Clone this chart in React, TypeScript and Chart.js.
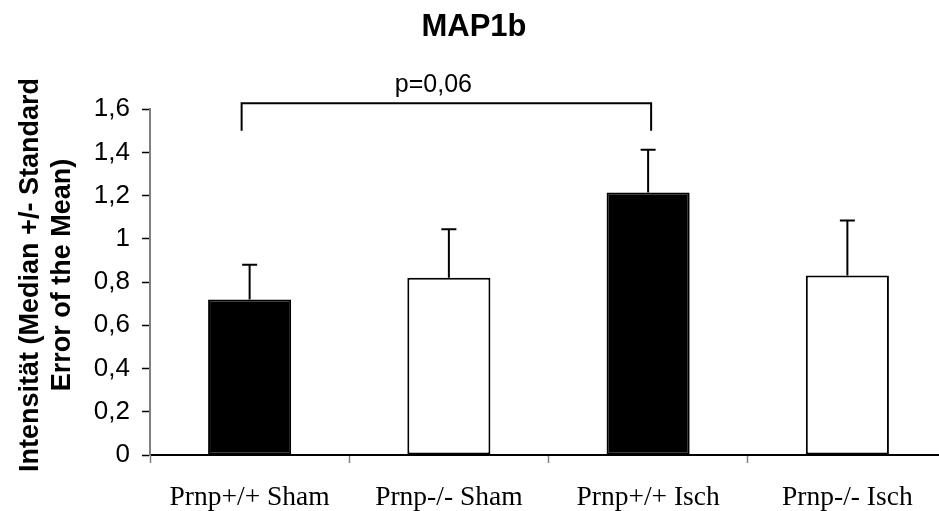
import React, { useEffect, useRef } from "react";
import { Chart, registerables } from "chart.js";

Chart.register(...registerables);

const categories = ["Prnp+/+ Sham", "Prnp-/- Sham", "Prnp+/+ Isch", "Prnp-/- Isch"];
const medianValues = [0.72, 0.82, 1.215, 0.83];
const semValues = [0.16, 0.225, 0.197, 0.255];
const barColors = ["#000000", "#ffffff", "#000000", "#ffffff"];
const yTickMin = 0;
const yTickMax = 1.6;
const yTickStep = 0.2;
const titleText = "MAP1b";
const yAxisTitle = ["Intensität (Median +/- Standard", "Error of the Mean)"];
const bracketFrom = 0;
const bracketTo = 2;
const bracketTopValue = 1.628;
const bracketLegValue = 1.5;
const bracketLabel = "p=0,06";

const extendXPlugin = {
  id: "extendX",
  afterLayout(chart: any) {
    const x = chart.scales.x;
    const newRight = x.left + 797;
    x.right = newRight;
    x.width = newRight - x.left;
    x.configure();
    chart.chartArea.right = newRight;
    chart.chartArea.width = newRight - chart.chartArea.left;
  },
};

const yTitlePlugin = {
  id: "yTitle",
  afterDraw(chart: any) {
    const ctx = chart.ctx;
    ctx.save();
    ctx.fillStyle = "#000";
    ctx.font = "bold 27px 'Liberation Sans', Arial, sans-serif";
    ctx.textAlign = "center";
    ctx.textBaseline = "alphabetic";
    ctx.translate(0, 275);
    ctx.rotate(-Math.PI / 2);
    ctx.fillText(yAxisTitle[0], 0, 38);
    ctx.fillText(yAxisTitle[1], 0, 70);
    ctx.restore();
  },
};

const errorBarPlugin = {
  id: "errorBars",
  afterDatasetsDraw(chart: any) {
    const ctx = chart.ctx;
    const meta = chart.getDatasetMeta(0);
    const y = chart.scales.y;
    ctx.save();
    ctx.strokeStyle = "#000";
    ctx.lineWidth = 2;
    meta.data.forEach((bar: any, i: number) => {
      const top = y.getPixelForValue(medianValues[i] + semValues[i]);
      const base = y.getPixelForValue(medianValues[i]);
      ctx.beginPath();
      ctx.moveTo(bar.x, base);
      ctx.lineTo(bar.x, top);
      ctx.moveTo(bar.x - 7.5, top);
      ctx.lineTo(bar.x + 7.5, top);
      ctx.stroke();
    });
    ctx.restore();
  },
};

const bracketPlugin = {
  id: "bracket",
  afterDatasetsDraw(chart: any) {
    const ctx = chart.ctx;
    const x = chart.scales.x;
    const y = chart.scales.y;
    const x1 = x.getPixelForValue(bracketFrom) - 8;
    const x2 = x.getPixelForValue(bracketTo) + 3;
    const yt = y.getPixelForValue(bracketTopValue);
    const yl = y.getPixelForValue(bracketLegValue);
    ctx.save();
    ctx.strokeStyle = "#000";
    ctx.lineWidth = 2;
    ctx.beginPath();
    ctx.moveTo(x1, yl);
    ctx.lineTo(x1, yt);
    ctx.lineTo(x2, yt);
    ctx.lineTo(x2, yl);
    ctx.stroke();
    ctx.fillStyle = "#000";
    ctx.font = "25px 'Liberation Sans', Arial, sans-serif";
    ctx.textAlign = "center";
    ctx.textBaseline = "alphabetic";
    ctx.fillText(bracketLabel, (x1 + x2) / 2 - 13, yt - 11);
    ctx.restore();
  },
};

export default function App() {
  const canvasRef = useRef<HTMLCanvasElement | null>(null);

  useEffect(() => {
    document.body.style.margin = "0";
    const canvas = canvasRef.current;
    if (!canvas) return;
    const chart = new Chart(canvas, {
      type: "bar",
      data: {
        labels: categories,
        datasets: [
          {
            data: medianValues,
            backgroundColor: barColors,
            borderColor: "#000",
            borderWidth: 2,
            borderSkipped: false,
            categoryPercentage: 1,
            barPercentage: 0.417,
          },
        ],
      },
      options: {
        animation: false,
        responsive: true,
        maintainAspectRatio: false,
        layout: { padding: { left: 9, right: 0, top: 0, bottom: 0 } },
        plugins: {
          legend: { display: false },
          tooltip: { enabled: false },
          title: {
            display: true,
            text: titleText,
            color: "#000",
            font: { family: "'Liberation Sans', Arial, sans-serif", size: 31, weight: "bold", lineHeight: 1.2 },
            padding: { top: 9, bottom: 63 },
          },
        },
        scales: {
          x: {
            type: "category",
            offset: true,
            afterFit(scale: any) {
              scale.height = 56;
            },
            border: { display: true, color: "#000", width: 2 },
            grid: {
              display: true,
              offset: true,
              drawOnChartArea: false,
              drawTicks: true,
              tickLength: 8,
              tickColor: "#808080",
              tickWidth: 1.5,
            },
            ticks: {
              color: "#000",
              padding: 18,
              maxRotation: 0,
              autoSkip: false,
              font: { family: "'Liberation Serif', 'Times New Roman', serif", size: 27.5 },
            },
          },
          y: {
            min: yTickMin,
            max: yTickMax,
            afterFit(scale: any) {
              scale.width = 141;
            },
            border: { display: true, color: "#808080", width: 2 },
            grid: {
              display: true,
              drawOnChartArea: false,
              drawTicks: true,
              tickLength: 8,
              tickColor: "#000",
              tickWidth: 1.5,
            },
            ticks: {
              stepSize: yTickStep,
              color: "#000",
              padding: 12,
              font: { family: "'Liberation Sans', Arial, sans-serif", size: 26 },
              callback: (v: any) => String(Number(Number(v).toFixed(1))).replace(".", ","),
            },
          },
        },
      },
      plugins: [extendXPlugin, errorBarPlugin, bracketPlugin, yTitlePlugin],
    });
    return () => chart.destroy();
  }, []);

  return (
    <div style={{ width: 939, height: 511, position: "relative" }}>
      <canvas ref={canvasRef} />
    </div>
  );
}
